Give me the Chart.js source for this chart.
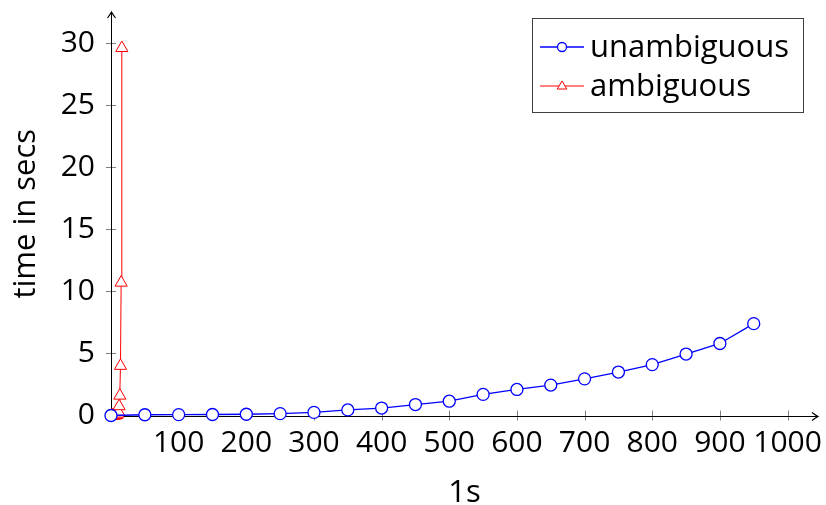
<!DOCTYPE html>
<html>
<head>
<meta charset="utf-8">
<script src="https://cdn.jsdelivr.net/npm/chart.js@4/dist/chart.umd.min.js"></script>
<style>
html,body{margin:0;padding:0;background:#fff;}
#wrap{width:826px;height:505px;}
</style>
</head>
<body>
<div id="wrap"><canvas id="c" width="826" height="505"></canvas></div>
<script>
// ---- data ----
const unambiguousX = [0, 50, 100, 150, 200, 250, 300, 350, 400, 450, 500, 550, 600, 650, 700, 750, 800, 850, 900, 950];
const unambiguousY = [0, 0.06, 0.07, 0.08, 0.1, 0.15, 0.25, 0.45, 0.6, 0.88, 1.15, 1.7, 2.1, 2.45, 2.95, 3.5, 4.1, 4.95, 5.8, 7.4];
const ambiguousX = [1, 2, 3, 4, 5, 6, 7, 8, 9, 10, 11, 12, 13, 14, 15, 16];
const ambiguousY = [0, 0, 0, 0, 0.01, 0.01, 0.02, 0.04, 0.08, 0.15, 0.3, 0.75, 1.6, 4.0, 10.7, 29.6];
const xTickValues = [100, 200, 300, 400, 500, 600, 700, 800, 900, 1000];
const yTickValues = [0, 5, 10, 15, 20, 25, 30];
const seriesLabels = ['unambiguous', 'ambiguous'];
const xTitle = '1s';
const yTitle = 'time in secs';

const FONT = "'Open Sans', sans-serif";
const toPts = (xs, ys) => xs.map((x, i) => ({x: x, y: ys[i]}));

const axesPlugin = {
  id: 'pgfAxes',
  beforeDatasetsDraw(chart) {
    const ctx = chart.ctx;
    const xs = chart.scales.x, ys = chart.scales.y;
    const x0 = xs.getPixelForValue(0), y0 = ys.getPixelForValue(0);
    const right = chart.chartArea.right, top = chart.chartArea.top;
    ctx.save();
    ctx.strokeStyle = '#808080';
    ctx.lineWidth = 1;
    xTickValues.forEach(v => {
      const px = Math.round(xs.getPixelForValue(v)) + 0.5;
      ctx.beginPath(); ctx.moveTo(px, y0 - 5); ctx.lineTo(px, y0 + 5); ctx.stroke();
    });
    yTickValues.forEach(v => {
      if (v === 0) return;
      const py = Math.round(ys.getPixelForValue(v)) + 0.5;
      ctx.beginPath(); ctx.moveTo(x0 - 5, py); ctx.lineTo(x0 + 5, py); ctx.stroke();
    });
    ctx.strokeStyle = '#000';
    ctx.lineWidth = 1;
    const yl = Math.round(y0) + 0.5, xl = Math.round(x0) + 0.5;
    ctx.beginPath(); ctx.moveTo(x0, yl); ctx.lineTo(right - 1, yl); ctx.stroke();
    ctx.beginPath(); ctx.moveTo(xl, y0 + 2); ctx.lineTo(xl, top + 1); ctx.stroke();
    ctx.lineWidth = 1.2;
    ctx.beginPath(); ctx.moveTo(right - 6, yl - 4); ctx.quadraticCurveTo(right - 2, yl - 1, right, yl); ctx.quadraticCurveTo(right - 2, yl + 1, right - 6, yl + 4); ctx.stroke();
    ctx.beginPath(); ctx.moveTo(xl - 4, top + 6); ctx.quadraticCurveTo(xl - 1, top + 2, xl, top); ctx.quadraticCurveTo(xl + 1, top + 2, xl + 4, top + 6); ctx.stroke();
    ctx.restore();
  }
};

const legendPlugin = {
  id: 'pgfLegend',
  afterDraw(chart) {
    const ctx = chart.ctx;
    const bx = 532.5, by = 18.5, bw = 271, bh = 94;
    ctx.save();
    ctx.fillStyle = '#fff';
    ctx.fillRect(bx, by, bw, bh);
    ctx.strokeStyle = '#404040';
    ctx.lineWidth = 1;
    ctx.strokeRect(bx, by, bw, bh);
    const rows = [47, 86];
    chart.data.datasets.forEach((ds, i) => {
      const cy = rows[i];
      ctx.strokeStyle = ds.borderColor;
      ctx.lineWidth = ds.borderWidth;
      ctx.beginPath(); ctx.moveTo(540, cy); ctx.lineTo(584, cy); ctx.stroke();
      const mx = 562;
      ctx.fillStyle = '#fff';
      ctx.lineWidth = ds.pointBorderWidth;
      ctx.strokeStyle = ds.pointBorderColor;
      ctx.beginPath();
      if (ds.pointStyle === 'circle') {
        ctx.arc(mx, cy, 4.5, 0, Math.PI * 2);
      } else {
        const r = 5;
        ctx.moveTo(mx, cy - r);
        ctx.lineTo(mx + r * 0.95, cy + r * 0.6);
        ctx.lineTo(mx - r * 0.95, cy + r * 0.6);
        ctx.closePath();
      }
      ctx.fill(); ctx.stroke();
      ctx.fillStyle = '#000';
      ctx.font = "31px " + FONT;
      ctx.textBaseline = 'middle';
      ctx.textAlign = 'left';
      ctx.fillText(ds.label, 590, cy + 1);
    });
    ctx.restore();
  }
};

new Chart(document.getElementById('c'), {
  type: 'line',
  data: {
    datasets: [
      {
        label: seriesLabels[0],
        data: toPts(unambiguousX, unambiguousY),
        borderColor: '#0000ff',
        borderWidth: 1.3,
        pointStyle: 'circle',
        pointRadius: 6,
        pointBackgroundColor: '#ffffff',
        pointBorderColor: '#0000ff',
        pointBorderWidth: 1.3,
        tension: 0,
        clip: false
      },
      {
        label: seriesLabels[1],
        data: toPts(ambiguousX, ambiguousY),
        borderColor: '#ff0000',
        borderWidth: 1,
        pointStyle: 'triangle',
        pointRadius: 7,
        pointBackgroundColor: '#ffffff',
        pointBorderColor: '#ff0000',
        pointBorderWidth: 1,
        tension: 0,
        clip: false
      }
    ]
  },
  options: {
    responsive: false,
    animation: false,
    devicePixelRatio: 1,
    layout: {padding: {top: 12, right: 4, bottom: 0, left: 0}},
    plugins: {legend: {display: false}, tooltip: {enabled: false}},
    scales: {
      x: {
        type: 'linear',
        min: 0,
        max: 1045,
        afterBuildTicks: s => { s.ticks = xTickValues.map(v => ({value: v})); },
        afterFit: s => { s.height = 89.5; s.paddingLeft = 0; s.paddingRight = 0; },
        grid: {display: false, drawTicks: false},
        border: {display: false},
        ticks: {color: '#000', font: {family: FONT, size: 30}, padding: 10, maxRotation: 0, autoSkip: false,
                callback: v => String(v)},
        title: {display: true, text: xTitle, color: '#000', font: {family: FONT, size: 31}, padding: {top: 0, bottom: -7}}
      },
      y: {
        type: 'linear',
        min: 0,
        max: 32.5,
        afterBuildTicks: s => { s.ticks = yTickValues.map(v => ({value: v})); },
        afterFit: s => { s.width = 111; s.paddingTop = 0; s.paddingBottom = 0; },
        grid: {display: false, drawTicks: false},
        border: {display: false},
        ticks: {color: '#000', font: {family: FONT, size: 30}, padding: 16, autoSkip: false,
                callback: v => String(v)},
        title: {display: true, text: yTitle, color: '#000', font: {family: FONT, size: 31}, padding: {top: 8, bottom: 0}}
      }
    }
  },
  plugins: [axesPlugin, legendPlugin]
});
</script>
</body>
</html>
